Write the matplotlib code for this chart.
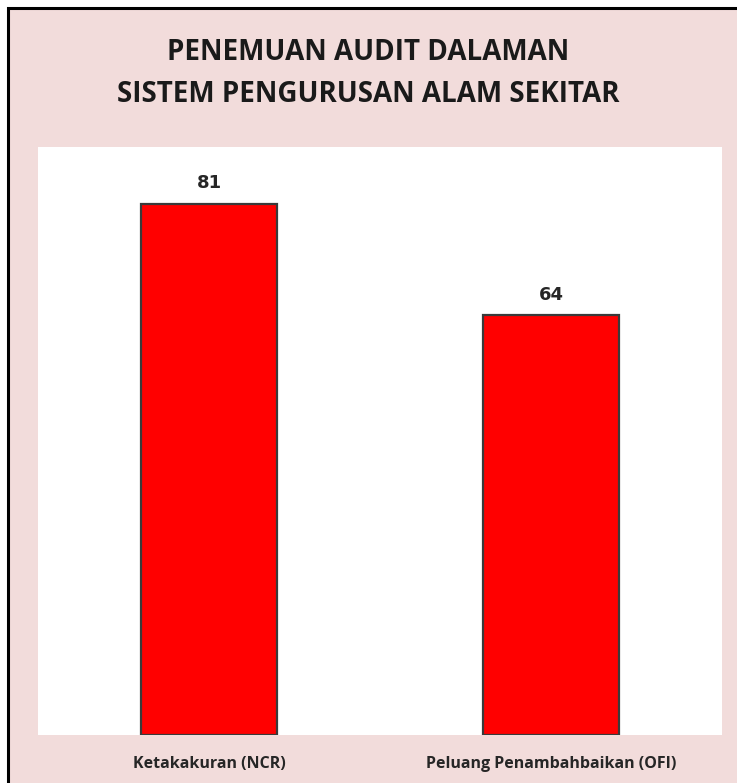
import matplotlib.pyplot as plt
from matplotlib.patches import Rectangle

# Data
categories = ['Ketakakuran (NCR)', 'Peluang Penambahbaikan (OFI)']
values = [81, 64]

W, H = 737, 783
fig = plt.figure(figsize=(W / 100, H / 100), dpi=100)
fig.patch.set_facecolor('white')

# pink chart area with black frame (cropped on right/bottom)
bg = fig.add_axes([0, 0, 1, 1], zorder=0)
bg.set_axis_off()
bg.set_xlim(0, 1)
bg.set_ylim(0, 1)
bg.add_patch(Rectangle((8 / W, -0.05), 1.1, (H - 8) / H + 0.05,
                       facecolor='#F2DCDB', edgecolor='black', linewidth=2.2))

ax = fig.add_axes([38 / W, 1 - 735 / H, (722 - 38) / W, (735 - 147) / H], zorder=1)
ax.set_facecolor('white')
x = range(len(categories))
ax.bar(x, values, width=0.4, color='#FF0000', edgecolor='#3a3a3a', linewidth=1.6)
for xi, v in zip(x, values):
    ax.text(xi, v + 1.8, str(v), ha='center', va='bottom', fontsize=13,
            fontweight='bold', color='#262626', family='DejaVu Sans')

ax.set_xlim(-0.5, 1.5)
ax.set_ylim(0, 89.7)
ax.set_yticks([])
ax.set_xticks(list(x))
ax.set_xticklabels(categories, fontsize=11.5, fontweight='bold', family='Open Sans',
                   color='#262626')
ax.tick_params(axis='x', length=0, pad=15)
for s in ax.spines.values():
    s.set_visible(False)

fig.text(0.5, 1 - 52 / H, 'PENEMUAN AUDIT DALAMAN', ha='center', va='center',
         fontsize=20, fontweight='bold', family='Open Sans', color='#1a1a1a')
fig.text(0.5, 1 - 95 / H, 'SISTEM PENGURUSAN ALAM SEKITAR', ha='center', va='center',
         fontsize=20, fontweight='bold', family='Open Sans', color='#1a1a1a')

fig.savefig('out.png', dpi=100, facecolor=fig.get_facecolor())
